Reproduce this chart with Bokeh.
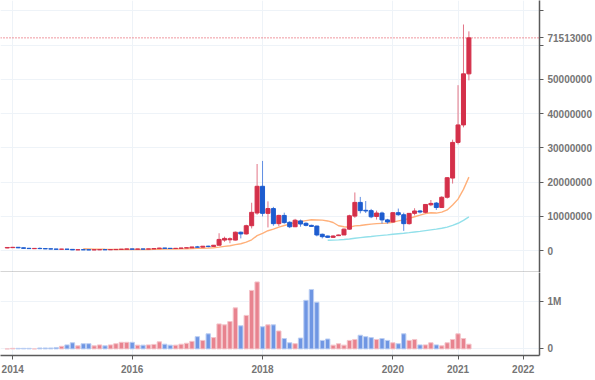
import numpy as np
import pandas as pd
from bokeh.plotting import figure
from bokeh.layouts import column
from bokeh.models import ColumnDataSource, Range1d, FixedTicker, Span
from bokeh.embed import file_html
from bokeh.resources import INLINE

# ---------------- data (prices in million KRW, volume in millions) ----------------
all_months = pd.period_range("2013-12", "2021-03", freq="M").strftime("%Y-%m").tolist()
missing_months = ["2014-06", "2014-07"]
months = [m for m in all_months if m not in missing_months]

open_m = [0.80, 0.90, 1.00, 0.85, 0.70, 0.60, 0.68, 0.62, 0.55, 0.50,
          0.42, 0.48, 0.40, 0.25, 0.30, 0.27, 0.25, 0.28, 0.31, 0.29,
          0.33, 0.38, 0.45, 0.52, 0.45, 0.50, 0.48, 0.53, 0.62, 0.78,
          0.70, 0.66, 0.70, 0.80, 0.86, 1.10, 1.05, 1.32, 1.25, 1.60,
          3.10, 3.20, 3.10, 5.40, 4.90, 7.30, 11.0, 18.8, 10.9, 12.3,
          7.90, 10.3, 8.30, 7.00, 8.70, 8.00, 7.40, 7.20, 4.80, 4.30,
          3.90, 4.40, 4.60, 6.30, 10.1, 14.1, 11.8, 11.7, 10.0, 11.0,
          9.00, 8.40, 11.1, 10.5, 7.90, 10.9, 11.6, 11.2, 13.4, 13.9,
          12.6, 15.6, 21.2, 31.6, 36.7, 51.6]
high_m = [1.05, 1.10, 1.05, 0.90, 0.85, 0.72, 0.95, 0.66, 0.58, 0.53,
          0.52, 0.50, 0.42, 0.32, 0.33, 0.29, 0.30, 0.33, 0.32, 0.35,
          0.40, 0.48, 0.55, 0.55, 0.52, 0.52, 0.55, 0.64, 0.85, 0.80,
          0.72, 0.72, 0.82, 0.88, 1.12, 1.40, 1.35, 1.45, 1.65, 5.10,
          4.10, 3.90, 5.60, 5.60, 7.60, 14.0, 25.3, 26.2, 14.4, 12.8,
          10.5, 11.1, 8.60, 9.30, 9.10, 8.30, 7.60, 7.30, 5.00, 4.40,
          4.50, 4.70, 6.50, 10.5, 17.0, 15.7, 14.5, 12.2, 11.7, 11.4,
          9.30, 11.2, 12.3, 11.1, 11.0, 12.4, 11.9, 13.6, 14.8, 14.2,
          15.9, 21.5, 32.4, 48.3, 66.0, 64.0]
low_m = [0.75, 0.85, 0.75, 0.65, 0.50, 0.58, 0.45, 0.52, 0.46, 0.38,
         0.40, 0.36, 0.20, 0.22, 0.24, 0.23, 0.24, 0.27, 0.26, 0.28,
         0.32, 0.36, 0.43, 0.42, 0.43, 0.46, 0.47, 0.52, 0.60, 0.65,
         0.62, 0.64, 0.69, 0.78, 0.85, 0.95, 1.00, 1.00, 1.20, 1.55,
         2.60, 2.20, 3.00, 3.60, 4.70, 6.50, 10.5, 10.0, 6.80, 7.30,
         7.20, 7.90, 6.60, 6.90, 7.00, 7.10, 7.00, 4.20, 3.60, 3.70,
         3.80, 4.30, 4.60, 6.10, 9.60, 10.9, 11.0, 9.50, 9.10, 7.90,
         7.90, 8.10, 10.2, 5.80, 7.60, 10.3, 10.9, 10.9, 13.0, 11.9,
         12.5, 15.2, 19.6, 31.0, 36.0, 49.7]
close_m = [0.95, 1.00, 0.85, 0.70, 0.62, 0.68, 0.62, 0.55, 0.50, 0.42,
           0.48, 0.40, 0.25, 0.30, 0.27, 0.25, 0.28, 0.31, 0.29, 0.33,
           0.38, 0.45, 0.52, 0.45, 0.50, 0.48, 0.53, 0.62, 0.78, 0.70,
           0.66, 0.70, 0.80, 0.86, 1.10, 1.05, 1.32, 1.25, 1.60, 3.30,
           3.60, 3.50, 5.40, 4.90, 7.30, 11.2, 18.8, 10.9, 12.3, 7.90,
           10.3, 8.20, 7.00, 8.90, 7.80, 7.40, 7.10, 4.60, 4.10, 3.90,
           4.30, 4.60, 6.30, 10.2, 14.1, 11.7, 11.6, 9.90, 11.0, 9.00,
           8.40, 11.1, 10.5, 7.90, 10.9, 11.6, 11.3, 13.5, 13.8, 12.6,
           15.6, 21.3, 31.6, 36.7, 51.6, 62.1]
volume_m = [0.000, 0.012, 0.012, 0.012, 0.012, 0.000, 0.020, 0.020, 0.020, 0.030,
            0.055, 0.085, 0.130, 0.065, 0.110, 0.110, 0.065, 0.085, 0.065, 0.085,
            0.110, 0.140, 0.140, 0.140, 0.080, 0.080, 0.085, 0.095, 0.150, 0.100,
            0.080, 0.080, 0.100, 0.120, 0.160, 0.260, 0.180, 0.320, 0.240, 0.530,
            0.510, 0.580, 0.870, 0.490, 0.710, 1.240, 1.420, 0.470, 0.510, 0.510,
            0.380, 0.220, 0.130, 0.110, 0.230, 1.030, 1.260, 0.990, 0.180, 0.210,
            0.080, 0.110, 0.080, 0.180, 0.200, 0.290, 0.260, 0.240, 0.200, 0.220,
            0.180, 0.130, 0.110, 0.320, 0.180, 0.200, 0.085, 0.085, 0.130, 0.085,
            0.065, 0.130, 0.200, 0.320, 0.220, 0.100]

price_label = "71513000"
ma_windows = [15, 60]

price_ticks = [0, 10000000, 20000000, 30000000, 40000000, 50000000, 60000000, 70000000]
price_tick_labels = ["0", "10000000", "20000000", "30000000", "40000000", "50000000", "", ""]
vol_ticks = [0, 1000000]
vol_tick_labels = ["0", "1M"]
year_labels = ["2014", "2016", "2018", "2020", "2021", "2022"]

# ---------------- styling ----------------
RED, BLUE = "#d4304a", "#1d5ccf"
RED_W, BLUE_W = "#e27486", "#5f8ee3"
RED_V, BLUE_V = "#e8838f", "#6f96e3"
RED_VL, BLUE_VL = "#f4c4ca", "#bccff3"
MA_COLORS = ["#ffb07a", "#92e0ea"]
GRID = "#eef3f8"
AXIS = "#5a5a5a"
LBL = "#757575"
FONT = "Liberation Sans"
FW = 539

M = 1e6
o = np.array(open_m) * M
h = np.array(high_m) * M
l = np.array(low_m) * M
c = np.array(close_m) * M
vol = np.array(volume_m) * M
x = np.arange(len(months))
up = c >= o
last_close = int(round(c[-1]))

src = ColumnDataSource(dict(
    x=x, h=h, l=l,
    top=np.maximum(o, c), bot=np.minimum(o, c),
    col=np.where(up, RED, BLUE), wcol=np.where(up, RED_W, BLUE_W),
    vol=vol, vcol=np.where(up, RED_V, BLUE_V), vlcol=np.where(up, RED_VL, BLUE_VL),
))

close_s = pd.Series(c)
ma_lines = [close_s.rolling(w).mean().to_numpy() for w in ma_windows]

# tick positions: index of first month of each year (next year extrapolated)
def year_pos(y):
    key = f"{y}-01"
    if key in months:
        return months.index(key)
    return months.index(f"{int(y) - 1}-01") + 12

year_ticks = [year_pos(y) for y in year_labels]
x_overrides = dict(zip(year_ticks, year_labels))

xr = Range1d(-1.25, 98.0)

def style_common(fig):
    fig.grid.grid_line_color = GRID
    fig.grid.grid_line_width = 1
    for ax in fig.yaxis + fig.xaxis:
        ax.axis_line_color = AXIS
        ax.axis_line_width = 1.5
        ax.major_tick_line_color = AXIS
        ax.minor_tick_line_color = None
        ax.major_tick_in = 0
        ax.major_tick_out = 4
        ax.major_label_text_font = FONT
        ax.major_label_text_font_size = "10px"
        ax.major_label_text_font_style = "bold"
        ax.major_label_text_color = LBL

# ---------------- price pane ----------------
p = figure(frame_width=FW, frame_height=272, x_range=xr,
           y_range=Range1d(-6.35e6, 73.0e6), output_backend="svg",
           toolbar_location=None, y_axis_location="right", x_axis_location="below",
           min_border_left=0, min_border_top=0, min_border_bottom=0, min_border_right=0,
           outline_line_color=None, background_fill_color="white", border_fill_color="white")
style_common(p)
p_ticks = price_ticks + [last_close]
p_labels = dict(zip(price_ticks, price_tick_labels))
p_labels[last_close] = price_label
p.yaxis.ticker = FixedTicker(ticks=p_ticks)
p.yaxis.major_label_overrides = p_labels
p.yaxis.major_label_standoff = 4
p.xaxis.ticker = FixedTicker(ticks=[])
p.xaxis.major_tick_out = 0
p.xaxis.major_label_standoff = 0
p.xaxis.major_label_text_font_size = "0px"
p.xaxis.axis_line_width = 1.6
p.xgrid.ticker = FixedTicker(ticks=year_ticks)
p.ygrid.ticker = FixedTicker(ticks=price_ticks)

for ma, colr in zip(ma_lines, MA_COLORS):
    p.line(x, ma, line_color=colr, line_width=1.4)

p.segment(x0="x", y0="h", x1="x", y1="l", line_color="wcol", line_width=1, source=src)
p.vbar(x="x", width=0.74, top="top", bottom="bot", fill_color="col", line_color="col",
       line_width=1, source=src)

p.add_layout(Span(location=last_close, dimension="width", line_color="#e0303f",
                  line_dash="1 2", line_width=1))

# ---------------- volume pane ----------------
v = figure(frame_width=FW, frame_height=83, x_range=xr,
           y_range=Range1d(-0.14e6, 1.62e6), output_backend="svg",
           toolbar_location=None, y_axis_location="right", x_axis_location="below",
           min_border_left=0, min_border_top=0, min_border_bottom=0, min_border_right=0,
           outline_line_color=None, background_fill_color="white", border_fill_color="white")
style_common(v)
v.yaxis.ticker = FixedTicker(ticks=vol_ticks)
v.yaxis.major_label_overrides = dict(zip(vol_ticks, vol_tick_labels))
v.yaxis.major_label_standoff = 4
v.xaxis.ticker = FixedTicker(ticks=year_ticks)
v.xaxis.major_label_overrides = x_overrides
v.xaxis.major_label_standoff = 5

v.vbar(x="x", width=0.8, top="vol", bottom=0, fill_color="vcol", line_color="vlcol",
       line_width=1, source=src)

layout = column(p, v, spacing=0)
open("out.html", "w").write(file_html(layout, INLINE))
